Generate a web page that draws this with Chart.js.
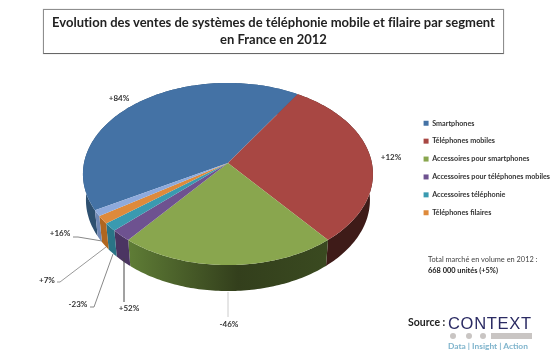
<!DOCTYPE html>
<html lang="fr">
<head>
<meta charset="utf-8">
<title>Ventes de systèmes de téléphonie en France en 2012</title>
<script src="https://cdn.jsdelivr.net/npm/chart.js@4/dist/chart.umd.js"></script>
<style>
  html, body { margin: 0; padding: 0; background: #fff; overflow: hidden; }
  #page { position: relative; width: 553px; height: 357px; font-family: Lato, "Open Sans", sans-serif; filter: blur(0.35px); }
  #page canvas { position: absolute; left: 0; top: 0; }
  #title {
    position: absolute; left: 43px; top: 9px; width: 459px; height: 43px;
    border: 1px solid #8e8e8e; border-bottom-color: #666; box-sizing: content-box;
    text-align: center; font-weight: bold; font-size: 13px; line-height: 17px; color: #222;
    font-variant-ligatures: none; box-shadow: 0 0 1px #bbb;
  }
  #title div:first-child { margin-top: 4px; }
  #total { position: absolute; left: 428px; top: 254px; font-size: 7.4px; line-height: 11px; color: #444; white-space: nowrap; }
  #total b { color: #222; }
  #source { position: absolute; left: 408px; top: 316px; font-size: 10.5px; font-weight: bold; color: #222; }
  #logo { position: absolute; left: 448px; top: 314px; width: 86px; height: 40px; }
  #logo .name { position: absolute; left: 0; top: 0; font-size: 16.5px; line-height: 18px; letter-spacing: 0.7px; color: #2b2b63; font-family: "Liberation Sans", sans-serif; white-space: nowrap; }
  #logo .tag { position: absolute; left: 0; top: 27px; font-size: 8.4px; line-height: 11px; font-weight: bold; color: #7fb4cc; white-space: nowrap; }
  #logo i { position: absolute; top: 19px; height: 6px; background: #c9c5c3; }
  #logo i.dot { width: 6px; border-radius: 3px; }
</style>
</head>
<body>
<div id="page">
  <canvas id="chart" width="553" height="357"></canvas>
  <div id="title"><div>Evolution des ventes de systèmes de téléphonie mobile et filaire par segment</div><div>en France en 2012</div></div>
  <div id="total">Total marché en volume en 2012 :<br><b>668 000 unités (+5%)</b></div>
  <div id="source">Source :</div>
  <div id="logo">
    <span class="name">CONTEXT</span>
    <i class="dot" style="left:2px"></i><i class="dot" style="left:18px"></i><i class="dot" style="left:32px"></i>
    <i style="left:43px;width:41px"></i>
    <span class="tag">Data | Insight | Action</span>
  </div>
</div>
<script>
// parts of the market (% of volume)
const segments = ["Smartphones", "Téléphones mobiles", "Accessoires pour smartphones",
  "Accessoires pour téléphones mobiles", "Accessoires téléphonie", "Téléphones filaires", "Autres"];
const shares = [39.5, 29.9, 24.2, 2.25, 1.55, 1.5, 1.1];
const growth = ["+84%", "+12%", "-46%", "+52%", "-23%", "+7%", "+16%"];
const topColors = ["#4472a5", "#a84743", "#89a64e", "#6e5290", "#3a9ab0", "#de8a3b", "#8eaadc"];
// wall shading, left to right
const wallColors = [
  ["#3a6288", "#2e5070", "#2e5070"],
  ["#3e1b18", "#4a211c", "#54261f"],
  ["#5f7d36", "#333f1c", "#3a4a20"],
  ["#4b3562", "#4b3562", "#4b3562"],
  ["#2a7486", "#2a7486", "#2a7486"],
  ["#b0661f", "#b0661f", "#b0661f"],
  ["#7088b5", "#7088b5", "#7088b5"],
];

// labels around the pie: text centre, then the leader line if there is one
const labelSpots = [
  { x: 119, y: 98 },
  { x: 391, y: 157 },
  { x: 229, y: 324, line: [[228, 292], [228, 317]], color: "#ccc" },
  { x: 129, y: 308, line: [[124, 258], [124, 302]], color: "#444" },
  { x: 78, y: 304, line: [[113, 254], [94, 307], [90, 307]], color: "#888" },
  { x: 47, y: 280, line: [[106, 247], [60, 282], [57, 282]], color: "#999" },
  { x: 60, y: 233, line: [[102, 241], [78, 237], [73, 237]], color: "#888" },
];

// fake 3D: the flat arcs from Chart.js get projected on a tilted disc
const tilt = 0.628;
const discShift = 6;   // rim centre below arc.y
const apexShift = -5;  // apex above arc.y
const depth = 26;
const bottomShrink = 3;

function rimPoint(arc, angle, level) {
  const r = arc.outerRadius - (level ? bottomShrink : 0);
  return {
    x: arc.x + r * Math.cos(angle),
    y: arc.y + discShift + (level ? depth : 0) + arc.outerRadius * tilt * Math.sin(angle),
  };
}

function traceRim(ctx, arc, from, to, level) {
  const steps = Math.max(2, Math.ceil(Math.abs(to - from) / 0.02));
  for (let i = 0; i <= steps; i++) {
    const p = rimPoint(arc, from + (to - from) * i / steps, level);
    ctx.lineTo(p.x, p.y);
  }
}

const tiltedPie = {
  id: "tiltedPie",
  beforeDatasetsDraw(chart) {
    const ctx = chart.ctx;
    const arcs = chart.getDatasetMeta(0).data;
    // outer walls first, the top faces hide whatever is behind them
    arcs.forEach((arc, i) => {
      const left = rimPoint(arc, arc.endAngle, 0);
      const right = rimPoint(arc, arc.startAngle, 0);
      const grad = ctx.createLinearGradient(left.x, 0, right.x, 0);
      grad.addColorStop(0, wallColors[i][0]);
      grad.addColorStop(0.55, wallColors[i][1]);
      grad.addColorStop(1, wallColors[i][2]);
      ctx.beginPath();
      traceRim(ctx, arc, arc.startAngle, arc.endAngle, 0);
      traceRim(ctx, arc, arc.endAngle, arc.startAngle, 1);
      ctx.closePath();
      ctx.fillStyle = grad;
      ctx.fill();
    });
    arcs.forEach((arc) => {
      ctx.beginPath();
      ctx.moveTo(arc.x, arc.y + apexShift);
      traceRim(ctx, arc, arc.startAngle, arc.endAngle, 0);
      ctx.closePath();
      ctx.fillStyle = arc.options.backgroundColor;
      ctx.fill();
    });
    return false; // skip the flat pie
  },
  // afterDatasetsDraw does not fire once the hook above returned false
  afterDraw(chart) {
    const ctx = chart.ctx;
    ctx.font = "bold 8px Lato, sans-serif";
    ctx.textAlign = "center";
    ctx.textBaseline = "middle";
    growth.forEach((label, i) => {
      const spot = labelSpots[i];
      if (spot.line) {
        ctx.beginPath();
        spot.line.forEach((p, k) => (k ? ctx.lineTo(p[0], p[1]) : ctx.moveTo(p[0], p[1])));
        ctx.strokeStyle = spot.color;
        ctx.lineWidth = 1;
        ctx.stroke();
      }
      ctx.fillStyle = "#333";
      ctx.fillText(label, spot.x, spot.y);
    });
  },
};

new Chart(document.getElementById("chart"), {
  type: "pie",
  data: {
    labels: segments,
    datasets: [{ data: shares, backgroundColor: topColors, borderWidth: 0 }],
  },
  options: {
    responsive: false,
    animation: false,
    rotation: -113.5,
    layout: { padding: { left: 43, right: -7, top: 23, bottom: 44 } },
    plugins: {
      title: { display: false },
      tooltip: { enabled: false },
      legend: {
        position: "right",
        labels: {
          filter: (item) => item.index < 6,
          boxWidth: 5,
          boxHeight: 5,
          padding: 10.7,
          color: "#333",
          font: { family: "Lato, sans-serif", size: 7.2, weight: "bold" },
        },
      },
    },
  },
  plugins: [tiltedPie],
});
</script>
</body>
</html>
